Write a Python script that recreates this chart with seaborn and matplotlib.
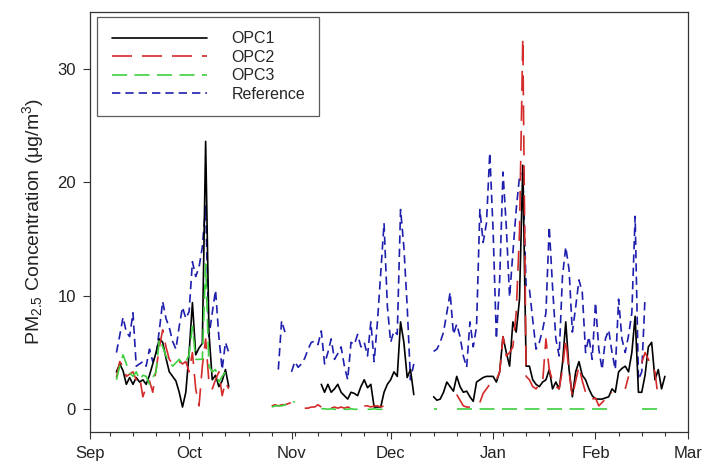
import pandas as pd
import matplotlib
matplotlib.use("Agg")
import matplotlib.pyplot as plt
import matplotlib.dates as mdates
from matplotlib.lines import Line2D
import seaborn as sns

# ---------------- data (daily PM2.5, µg/m3) ----------------
series_names = ["OPC1", "OPC2", "OPC3", "Reference"]

# Reference
ref_seg1_start = "2014-09-09"
ref_seg1 = [5.0, 6.5, 8.1, 6.8, 6.4, 8.5, 3.8, 4.0, 4.2, 3.8, 5.3, 4.2, 4.8, 7.0, 9.5,
            8.0, 7.2, 6.0, 5.3, 7.3, 9.0, 8.0, 8.6, 13.0, 11.7, 12.5, 14.3, 17.9, 6.4,
            8.5, 10.5, 6.4, 3.5, 5.9, 5.0]
ref_seg2_start = "2014-10-28"
ref_seg2 = [3.5, 7.8, 6.8]
ref_seg3_start = "2014-11-01"
ref_seg3 = [3.3, 4.2, 3.7, 4.0, 4.5, 5.3, 5.9, 6.0, 5.7, 6.9, 4.0, 5.0, 6.2, 4.4, 4.9,
            5.5, 3.8, 2.6, 5.9, 5.7, 6.6, 5.5, 5.9, 4.7, 7.7, 4.2, 7.7, 12.0, 16.4, 9.1,
            5.9, 6.9, 6.6, 17.6, 14.3, 9.1, 2.6, 4.0]
ref_seg4_start = "2014-12-14"
ref_seg4 = [5.1, 5.3, 5.9, 6.8, 8.5, 10.3, 6.6, 7.5, 6.4, 4.7, 3.7, 7.7, 5.5, 7.3, 17.6,
            14.7, 16.4, 22.6, 15.8, 6.2, 11.4, 20.9, 16.1, 9.9, 13.8, 17.6, 20.5, 20.8,
            10.8, 10.6, 7.9, 5.3, 5.9, 7.0, 8.5, 16.1, 10.8, 6.2, 4.7, 11.7, 14.3, 12.3,
            6.8, 9.0, 11.4, 10.3, 5.0, 6.4, 4.4, 9.4, 5.3, 3.5, 6.2, 7.0, 5.0, 3.5, 9.7,
            6.2, 5.0, 6.5, 8.5, 17.0, 2.6, 3.3, 9.9]

# OPC1
opc1_seg1_start = "2014-09-09"
opc1_seg1 = [3.3, 4.0, 3.4, 2.2, 2.8, 2.2, 2.8, 2.4, 2.6, 2.2, 3.0, 4.0, 5.0, 6.2, 5.9,
             4.5, 3.3, 2.9, 2.5, 1.5, 0.2, 1.5, 5.0, 9.4, 4.8, 5.4, 5.8, 23.6, 6.8, 2.6,
             3.0, 2.0, 2.5, 3.5, 2.0]
opc1_seg2_start = "2014-11-10"
opc1_seg2 = [2.2, 1.5, 2.2, 1.5, 1.8, 2.2, 1.5, 1.2, 0.9, 1.5, 1.4, 1.2, 2.0, 2.6, 1.9,
             2.2, 0.2, 0.2, 0.2, 1.5, 2.2, 2.6, 3.3, 2.9, 7.7, 5.9, 2.8, 3.5, 1.3]
opc1_seg3_start = "2014-12-14"
opc1_seg3 = [1.1, 0.8, 0.9, 1.5, 2.4, 2.0, 1.6, 2.9, 2.0, 1.5, 1.6, 1.1, 0.7, 2.4, 2.6,
             2.8, 2.9, 2.9, 2.9, 2.4, 3.3, 6.4, 5.0, 3.8, 7.7, 6.8, 9.7, 21.5, 3.8, 3.8,
             2.6, 2.2, 2.0, 2.4, 2.6, 3.5, 1.8, 2.4, 1.8, 4.0, 7.7, 3.5, 1.1, 3.3, 4.2,
             3.0, 2.6, 1.8, 1.2, 0.9, 0.9, 0.9, 1.0, 1.1, 1.8, 1.5, 3.3, 3.6, 3.8, 3.3,
             5.0, 8.2, 1.5, 1.5, 3.0, 5.5, 5.9, 2.6, 3.5, 1.8, 2.9]

# OPC2
opc2_seg1_start = "2014-09-09"
opc2_seg1 = [2.8, 4.2, 3.8, 2.9, 3.1, 3.3, 2.6, 2.9, 1.1, 2.0, 2.5, 1.5, 3.5, 5.5, 7.0,
             5.5, 4.4, 4.0, 4.2, 4.2, 4.0, 4.2, 3.3, 5.0, 1.8, 0.3, 3.8, 6.2, 2.4, 1.8,
             2.6, 3.3, 1.2, 2.4, 1.8]
opc2_seg2_start = "2014-10-26"
opc2_seg2 = [0.3, 0.4, 0.3, 0.4, 0.4, 0.5, 0.6, 0.8]
opc2_seg3_start = "2014-11-05"
opc2_seg3 = [0.1, 0.1, 0.2, 0.2, 0.4, 0.2]
opc2_seg4_start = "2014-11-13"
opc2_seg4 = [0.1, 0.2, 0.1, 0.2, 0.1, 0.2, 0.1, 0.2, 0.1]
opc2_seg5_start = "2014-11-23"
opc2_seg5 = [0.3, 0.3, 0.2, 0.3, 0.3, 0.2, 0.3]
opc2_seg6_start = "2014-12-21"
opc2_seg6 = [1.3, 0.8, 0.3, 0.2, 0.2]
opc2_seg7_start = "2014-12-28"
opc2_seg7 = [0.6, 1.4, 1.8, 2.2, 2.4, 2.6, 3.3, 6.4, 4.7, 5.0, 5.5, 8.5, 15.6, 32.7, 2.9,
             2.6, 2.0, 1.8, 2.2, 2.4, 6.2, 3.5, 2.5, 2.0, 1.8, 3.5, 6.2, 3.3, 1.1, 2.5,
             3.8, 2.5, 1.5, 1.2, 0.9, 1.0, 0.3, 0.6, 0.9, 1.3, 1.5]
opc2_seg8_start = "2015-02-10"
opc2_seg8 = [1.8, 2.9]
opc2_seg9_start = "2015-02-15"
opc2_seg9 = [4.1, 5.0, 4.4, 3.8, 3.3, 0.9]

# OPC3
opc3_seg1_start = "2014-09-09"
opc3_seg1 = [2.6, 3.8, 4.8, 4.0, 3.2, 2.9, 3.3, 2.6, 3.0, 2.9, 2.2, 2.8, 3.3, 6.2, 5.5,
             4.7, 4.2, 3.8, 4.1, 4.4, 4.0, 4.2, 4.8, 7.3, 4.4, 4.4, 4.4, 12.8, 3.8, 3.3,
             3.5, 2.4, 2.9, 3.3, 2.8]
opc3_seg2_start = "2014-10-26"
opc3_seg2 = [0.2, 0.3, 0.3, 0.3, 0.4, 0.4, 0.5, 0.7]
opc3_seg3_start = "2014-11-10"
opc3_seg3 = [0.05, 0.05, 0.0, 0.05, 0.0, 0.0, 0.05, 0.0, 0.0, 0.05, 0.0, 0.0]
opc3_seg4_start = "2014-11-24"
opc3_seg4 = [0.0, 0.0, 0.05, 0.0, 0.0, 0.0]
opc3_seg5_start = "2014-12-14"
opc3_seg5 = [0.0, 0.0]
opc3_seg6_start = "2014-12-21"
opc3_seg6 = [0.0, 0.0, 0.0, 0.0, 0.0, 0.0, 0.0, 0.0, 0.0, 0.0, 0.0, 0.0, 0.0, 0.0, 0.0,
             0.0, 0.0, 0.0, 0.0, 0.0, 0.0, 0.0, 0.0, 0.0, 0.0, 0.0, 0.0, 0.0, 0.0, 0.0,
             0.0, 0.0, 0.0, 0.0, 0.0, 0.0, 0.0, 0.0, 0.0, 0.0, 0.0, 0.0, 0.0, 0.0, 0.0,
             0.0, 0.0]
opc3_seg7_start = "2015-02-15"
opc3_seg7 = [0.0, 0.0, 0.0, 0.0, 0.0, 0.0, 0.0]

y_ticks = [0, 10, 20, 30]
y_label = "PM$_{2.5}$ Concentration (μg/m$^3$)"

segments = {
    "Reference": [(ref_seg1_start, ref_seg1), (ref_seg2_start, ref_seg2),
                  (ref_seg3_start, ref_seg3), (ref_seg4_start, ref_seg4)],
    "OPC1": [(opc1_seg1_start, opc1_seg1), (opc1_seg2_start, opc1_seg2),
             (opc1_seg3_start, opc1_seg3)],
    "OPC2": [(opc2_seg1_start, opc2_seg1), (opc2_seg2_start, opc2_seg2),
             (opc2_seg3_start, opc2_seg3), (opc2_seg4_start, opc2_seg4),
             (opc2_seg5_start, opc2_seg5), (opc2_seg6_start, opc2_seg6),
             (opc2_seg7_start, opc2_seg7), (opc2_seg8_start, opc2_seg8),
             (opc2_seg9_start, opc2_seg9)],
    "OPC3": [(opc3_seg1_start, opc3_seg1), (opc3_seg2_start, opc3_seg2),
             (opc3_seg3_start, opc3_seg3), (opc3_seg4_start, opc3_seg4),
             (opc3_seg5_start, opc3_seg5), (opc3_seg6_start, opc3_seg6),
             (opc3_seg7_start, opc3_seg7)],
}

frames = []
for name, segs in segments.items():
    for i, (start, vals) in enumerate(segs):
        frames.append(pd.DataFrame({
            "date": pd.date_range(start, periods=len(vals), freq="D"),
            "value": vals,
            "series": name,
            "seg": f"{name}-{i}",
        }))
df = pd.concat(frames, ignore_index=True)

# ---------------- styling ----------------
sns.set_theme(style="ticks")
plt.rcParams["font.family"] = ["Liberation Sans", "DejaVu Sans"]
plt.rcParams["mathtext.fontset"] = "custom"
plt.rcParams["mathtext.rm"] = "Liberation Sans"
plt.rcParams["mathtext.it"] = "Liberation Sans:italic"
plt.rcParams["mathtext.default"] = "regular"

colors = {"OPC1": "#000000", "OPC2": "#d42a2a", "OPC3": "#3fd03f", "Reference": "#1f1fae"}
lw = 1.2
styles = {
    "OPC1": "-",
    "OPC2": (0, (12, 6)),
    "OPC3": (0, (9, 4.5)),
    "Reference": (0, (5, 3)),
}

fig = plt.figure(figsize=(7.02, 4.67), dpi=100)
ax = fig.add_axes([90 / 702, 1 - 432 / 467, 598 / 702, 420 / 467])

for name in ["Reference", "OPC1", "OPC2", "OPC3"]:
    sub = df[df["series"] == name]
    sns.lineplot(data=sub, x="date", y="value", units="seg", estimator=None,
                 color=colors[name], linewidth=lw, linestyle=styles[name],
                 ax=ax, legend=False, sort=True)

ax.set_xlim(pd.Timestamp("2014-09-01"), pd.Timestamp("2015-03-01"))
ax.set_ylim(-2, 35)
ax.set_yticks(y_ticks)
ax.xaxis.set_major_locator(mdates.MonthLocator())
ax.xaxis.set_major_formatter(mdates.DateFormatter("%b"))
ax.xaxis.set_minor_locator(mdates.WeekdayLocator(byweekday=mdates.SU))
ax.tick_params(axis="both", which="major", direction="out", length=5, width=0.8,
               labelsize=12, color="#333333", labelcolor="#222222", pad=5)
ax.tick_params(axis="x", which="minor", direction="out", length=3, width=0.8, color="#333333")
for s in ax.spines.values():
    s.set_visible(True)
    s.set_linewidth(0.9)
    s.set_color("#333333")

ax.set_xlabel("")
ax.set_ylabel(y_label, fontsize=14, color="#222222", labelpad=8)

handles = [Line2D([], [], color=colors[n], linewidth=lw, linestyle=styles[n]) for n in series_names]
leg = ax.legend(handles, series_names, loc="upper left", bbox_to_anchor=(0.012, 0.988),
                borderaxespad=0, fontsize=11.5, handlelength=6.0, handletextpad=1.5,
                labelspacing=0.22, borderpad=0.9, frameon=True, fancybox=False)
leg.get_frame().set_edgecolor("#333333")
leg.get_frame().set_linewidth(0.9)

fig.savefig("out.png", dpi=100)
